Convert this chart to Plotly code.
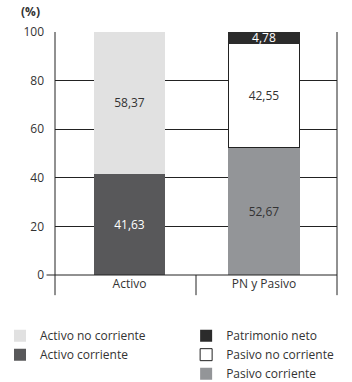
import plotly.graph_objects as go

categories = ["Activo", "PN y Pasivo"]
activo_corriente = [41.63, None]
activo_no_corriente = [58.37, None]
pasivo_corriente = [None, 52.67]
pasivo_no_corriente = [None, 42.55]
patrimonio_neto = [None, 4.78]
y_ticks = [0, 20, 40, 60, 80, 100]

FONT = "Open Sans"
TXT = "#333333"

def bar(name, vals, color, textcolor, legend, line_color=None, rank=0):
    return go.Bar(
        name=name, x=categories, y=vals,
        marker=dict(color=color,
                    line=dict(color=line_color or color, width=1 if line_color else 0)),
        texttemplate="%{y:.2f}", textposition="inside", insidetextanchor="middle",
        constraintext="none",
        textfont=dict(color=textcolor, size=12, family=FONT),
        legend=legend, legendrank=rank, width=0.53, hoverinfo="skip",
    )

fig = go.Figure()
fig.add_trace(bar("Activo corriente", activo_corriente, "#58585a", "white", "legend", rank=2))
fig.add_trace(bar("Activo no corriente", activo_no_corriente, "#e1e1e1", TXT, "legend", rank=1))
fig.add_trace(bar("Pasivo corriente", pasivo_corriente, "#939598", TXT, "legend2", rank=3))
fig.add_trace(bar("Pasivo no corriente", pasivo_no_corriente, "#ffffff", TXT, "legend2", line_color="#222222", rank=2))
fig.add_trace(bar("Patrimonio neto", patrimonio_neto, "#2b2b2b", "white", "legend2", rank=1))

shapes = []
for xd in [0, 0.5, 1]:
    shapes.append(dict(type="line", xref="x domain", yref="y domain",
                       x0=xd, x1=xd, y0=-0.083, y1=0 if xd == 0.5 else 1,
                       line=dict(color="#222222", width=1)))
shapes.append(dict(type="line", xref="x domain", yref="y domain",
                   x0=-0.03, x1=1, y0=0, y1=0, line=dict(color="#222222", width=1)))

legend_common = dict(font=dict(family=FONT, size=12, color=TXT), bgcolor="rgba(0,0,0,0)",
                     orientation="v", yanchor="top", xanchor="left", tracegroupgap=0,
                     itemclick=False, traceorder="normal")

fig.update_layout(
    width=352, height=382,
    margin=dict(l=55, r=15, t=32, b=107, autoexpand=False),
    barmode="stack",
    separators=",.",
    plot_bgcolor="white", paper_bgcolor="white",
    font=dict(family=FONT, size=12, color=TXT),
    xaxis=dict(type="category", range=[-0.554, 1.543], showgrid=False, showline=False,
               ticks="", tickfont=dict(size=12, color=TXT), ticklabelstandoff=0,
               tickvals=categories, ticktext=categories),
    yaxis=dict(range=[0, 100], tickvals=y_ticks, showgrid=True, gridcolor="#222222",
               gridwidth=1, zeroline=False, showline=False, ticks="",
               tickfont=dict(size=12, color=TXT), ticklabelstandoff=10),
    legend=dict(x=-0.195, y=-0.19, **legend_common),
    legend2=dict(x=0.465, y=-0.19, **legend_common),
    shapes=shapes,
    showlegend=True,
    annotations=[dict(text="<b>(%)</b>", xref="paper", yref="paper", x=-0.045, y=1.04,
                      xanchor="right", yanchor="bottom", showarrow=False,
                      font=dict(family=FONT, size=12, color=TXT))],
)

fig.write_html("out.html", config={"displayModeBar": False},
               post_script="document.body.style.margin='0';document.body.style.overflow='hidden';")
